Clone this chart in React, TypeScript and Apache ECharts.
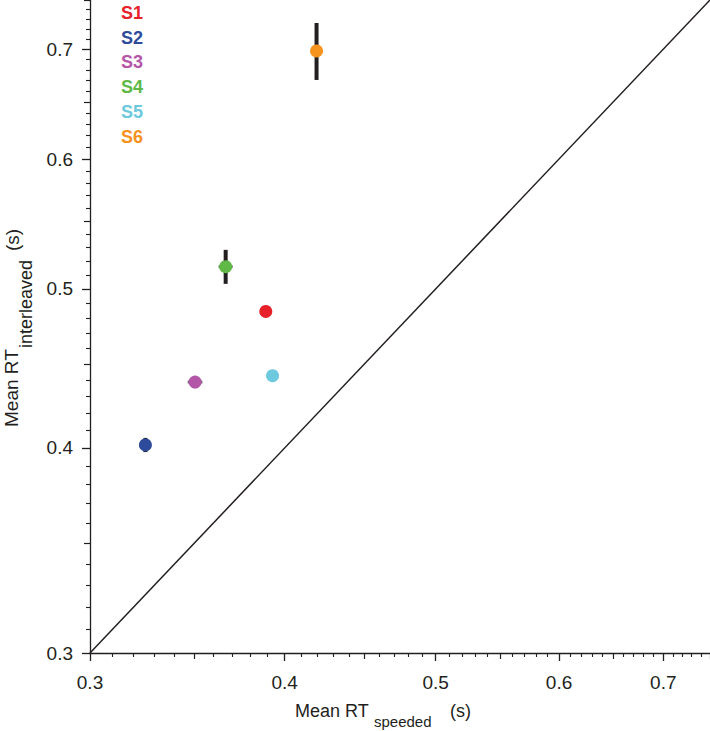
import React, { useEffect, useRef } from "react";
import * as echarts from "echarts";

// ---- data (seconds) ----
const subjects = ["S1", "S2", "S3", "S4", "S5", "S6"];
const subjectColors = ["#e62129", "#2e4b9b", "#b456a8", "#60b946", "#6dc9dd", "#f6921e"];
const speededRT = [0.389, 0.3256, 0.3504, 0.3666, 0.3929, 0.4193];
const interleavedRT = [0.4845, 0.4017, 0.4388, 0.5159, 0.4427, 0.6983];
const speededErr = [0.002, 0.002, 0.0038, 0.0038, 0.002, 0.002];
const interleavedErr = [0.002, 0.004, 0.002, 0.0123, 0.002, 0.0279];
const axisMin = 0.3;
const axisMax = 0.75;
const tickLabels = [0.3, 0.4, 0.5, 0.6, 0.7];
const midTicks = [0.35, 0.45, 0.55, 0.65, 0.75];

const L = (v: number) => Math.log10(v);
const FONT = "'Liberation Sans', Arial, Helvetica, sans-serif";
const INK = "#231f20";

function minorTicks(): number[] {
  const out: number[] = [];
  for (let i = 31; i <= 74; i++) {
    if (i % 5 !== 0) out.push(i / 100);
  }
  return out;
}

function makeAxes(isX: boolean) {
  const base = {
    type: "value",
    min: L(axisMin),
    max: L(axisMax),
    position: isX ? "bottom" : "left",
    offset: 0,
    splitLine: { show: false },
    gridIndex: 0,
  };
  const main = {
    ...base,
    axisLine: { show: true, onZero: false, lineStyle: { color: INK, width: 1.3 } },
    axisTick: {
      show: true,
      length: 8,
      customValues: tickLabels.map(L),
      lineStyle: { color: INK, width: 1.3 },
    },
    axisLabel: {
      show: true,
      customValues: tickLabels.map(L),
      formatter: (v: number) => Math.pow(10, v).toFixed(1),
      color: INK,
      fontSize: 19,
      fontFamily: FONT,
      margin: isX ? 20 : 17,
    },
  };
  const mid = {
    ...base,
    axisLine: { show: false, onZero: false },
    axisTick: {
      show: true,
      length: 6,
      customValues: midTicks.map(L),
      lineStyle: { color: INK, width: 1.2 },
    },
    axisLabel: { show: false },
  };
  const minor = {
    ...base,
    axisLine: { show: false, onZero: false },
    axisTick: {
      show: true,
      length: 4,
      customValues: minorTicks().map(L),
      lineStyle: { color: INK, width: 1.1 },
    },
    axisLabel: { show: false },
  };
  return [main, mid, minor];
}

export default function App() {
  const ref = useRef<HTMLDivElement>(null);

  useEffect(() => {
    if (!ref.current) return;
    const chart = echarts.init(ref.current, null, { renderer: "svg" });

    const errData = subjects.map((_, i) => [
      L(speededRT[i]),
      L(interleavedRT[i]),
      L(speededRT[i] - speededErr[i]),
      L(speededRT[i] + speededErr[i]),
      L(interleavedRT[i] - interleavedErr[i]),
      L(interleavedRT[i] + interleavedErr[i]),
    ]);

    const graphics: any[] = [];
    subjects.forEach((s, i) => {
      graphics.push({
        type: "text",
        left: 121,
        top: 4 + i * 24.7,
        style: {
          text: s,
          fill: subjectColors[i],
          font: `bold 18px ${FONT}`,
        },
      });
    });
    // x axis name
    graphics.push(
      {
        type: "text",
        x: 295,
        y: 711,
        style: { text: "Mean RT", fill: INK, font: `18px ${FONT}`, align: "left", verticalAlign: "middle" },
      },
      {
        type: "text",
        x: 374,
        y: 721,
        style: { text: "speeded", fill: INK, font: `15px ${FONT}`, align: "left", verticalAlign: "middle" },
      },
      {
        type: "text",
        x: 450,
        y: 711,
        style: { text: "(s)", fill: INK, font: `18px ${FONT}`, align: "left", verticalAlign: "middle" },
      }
    );
    // y axis name (rotated)
    graphics.push(
      {
        type: "text",
        x: 11,
        y: 427,
        rotation: Math.PI / 2,
        style: { text: "Mean RT", fill: INK, font: `19px ${FONT}`, align: "left", verticalAlign: "middle" },
      },
      {
        type: "text",
        x: 26,
        y: 348,
        rotation: Math.PI / 2,
        style: { text: "interleaved", fill: INK, font: `18px ${FONT}`, align: "left", verticalAlign: "middle" },
      },
      {
        type: "text",
        x: 12,
        y: 240,
        rotation: Math.PI / 2,
        style: { text: "(s)", fill: INK, font: `19px ${FONT}`, align: "center", verticalAlign: "middle" },
      }
    );

    const option: any = {
      animation: false,
      backgroundColor: "#ffffff",
      grid: { left: 90, right: 0, top: 0, bottom: 78, containLabel: false, outerBoundsMode: "none" },
      xAxis: makeAxes(true),
      yAxis: makeAxes(false),
      graphic: graphics,
      series: [
        {
          type: "line",
          xAxisIndex: 0,
          yAxisIndex: 0,
          data: [
            [L(axisMin), L(axisMin)],
            [L(axisMax), L(axisMax)],
          ],
          symbol: "none",
          lineStyle: { color: INK, width: 1.5 },
          silent: true,
          z: 1,
        },
        {
          type: "custom",
          xAxisIndex: 0,
          yAxisIndex: 0,
          data: errData,
          encode: { x: 0, y: 1 },
          z: 2,
          renderItem: (params: any, api: any) => {
            const x0 = api.coord([api.value(2), api.value(1)]);
            const x1 = api.coord([api.value(3), api.value(1)]);
            const y0 = api.coord([api.value(0), api.value(4)]);
            const y1 = api.coord([api.value(0), api.value(5)]);
            return {
              type: "group",
              children: [
                {
                  type: "line",
                  shape: { x1: x0[0], y1: x0[1], x2: x1[0], y2: x1[1] },
                  style: { stroke: "#666666", lineWidth: 3 },
                },
                {
                  type: "line",
                  shape: { x1: y0[0], y1: y0[1], x2: y1[0], y2: y1[1] },
                  style: { stroke: INK, lineWidth: 4 },
                },
              ],
            };
          },
        },
        ...subjects.map((s, i) => ({
          type: "scatter",
          name: s,
          xAxisIndex: 0,
          yAxisIndex: 0,
          data: [[L(speededRT[i]), L(interleavedRT[i])]],
          symbol: "circle",
          symbolSize: 13,
          itemStyle: { color: subjectColors[i], opacity: 1 },
          z: 3,
        })),
      ],
    };

    chart.setOption(option);
    return () => chart.dispose();
  }, []);

  return (
    <div
      ref={ref}
      style={{ position: "absolute", left: 0, top: 0, width: 710, height: 731, background: "#fff" }}
    />
  );
}
